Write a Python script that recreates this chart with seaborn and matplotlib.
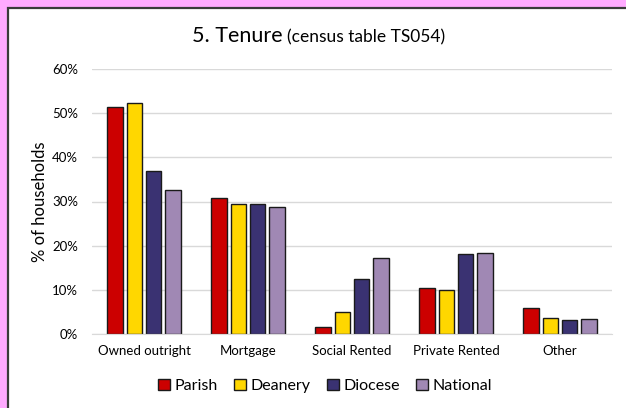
import pandas as pd
import seaborn as sns
import matplotlib.pyplot as plt
from matplotlib.patches import Rectangle
from matplotlib.ticker import PercentFormatter

categories = ["Owned outright", "Mortgage", "Social Rented", "Private Rented", "Other"]
series = ["Parish", "Deanery", "Diocese", "National"]
parish = [51.5, 30.8, 1.6, 10.5, 5.8]
deanery = [52.2, 29.4, 4.9, 9.9, 3.6]
diocese = [37.0, 29.5, 12.4, 18.1, 3.2]
national = [32.6, 28.8, 17.2, 18.3, 3.4]
colours = ["#CC0000", "#FFD700", "#3A3272", "#A088B4"]

rows = []
for name, vals in zip(series, [parish, deanery, diocese, national]):
    for cat, v in zip(categories, vals):
        rows.append({"category": cat, "area": name, "pct": v / 100})
df = pd.DataFrame(rows)

sns.set_style("white")
plt.rcParams["font.family"] = ["Lato", "DejaVu Sans"]
plt.rcParams["text.color"] = "black"

fig = plt.figure(figsize=(6.26, 4.08), dpi=100)
fig.patch.set_facecolor("#FFAAFF")
# white panel with dark border on top/left
panel = Rectangle((8 / 626, -0.05), 1.1, 1 - 8 / 408 + 0.05, transform=fig.transFigure,
                  facecolor="white", edgecolor="#3a3a3a", linewidth=1.6, zorder=-5)
fig.patches.append(panel)

ax = fig.add_axes([92 / 626, 1 - 334 / 408, 520 / 626, 265 / 408])
sns.barplot(data=df, x="category", y="pct", hue="area", palette=colours, saturation=1,
            width=0.74, gap=0.2, edgecolor="#1a1a1a", linewidth=1.0, ax=ax, legend=False)

ax.set_ylim(0, 0.6)
ax.set_yticks([0, 0.1, 0.2, 0.3, 0.4, 0.5, 0.6])
ax.yaxis.set_major_formatter(PercentFormatter(1.0, decimals=0))
ax.grid(axis="y", color="#D9D9D9", linewidth=1)
ax.set_axisbelow(True)
for s in ["top", "right", "left"]:
    ax.spines[s].set_visible(False)
ax.spines["bottom"].set_color("#D9D9D9")
ax.tick_params(axis="both", length=0, labelsize=9.5, colors="black")
ax.tick_params(axis="x", pad=8)
ax.tick_params(axis="y", pad=10)
ax.set_xlabel("")
ax.set_ylabel("% of households", fontsize=12, labelpad=3, color="black")
ax.set_facecolor("none")

fig.text(283 / 626, 1 - 42 / 408, "5. Tenure", fontsize=15.5, ha="right", va="baseline")
fig.text(287 / 626, 1 - 42 / 408, "(census table TS054)", fontsize=12.5, ha="left", va="baseline")

handles = [Rectangle((0, 0), 1, 1, facecolor=c, edgecolor="#1a1a1a", linewidth=1) for c in colours]
fig.legend(handles, series, loc="center", bbox_to_anchor=(325 / 626, 1 - 386 / 408), ncol=4,
           frameon=False, fontsize=11.5, handlelength=0.75, handleheight=0.75, handletextpad=0.3,
           columnspacing=1.0)

fig.savefig("out.png", dpi=100, facecolor=fig.get_facecolor())
